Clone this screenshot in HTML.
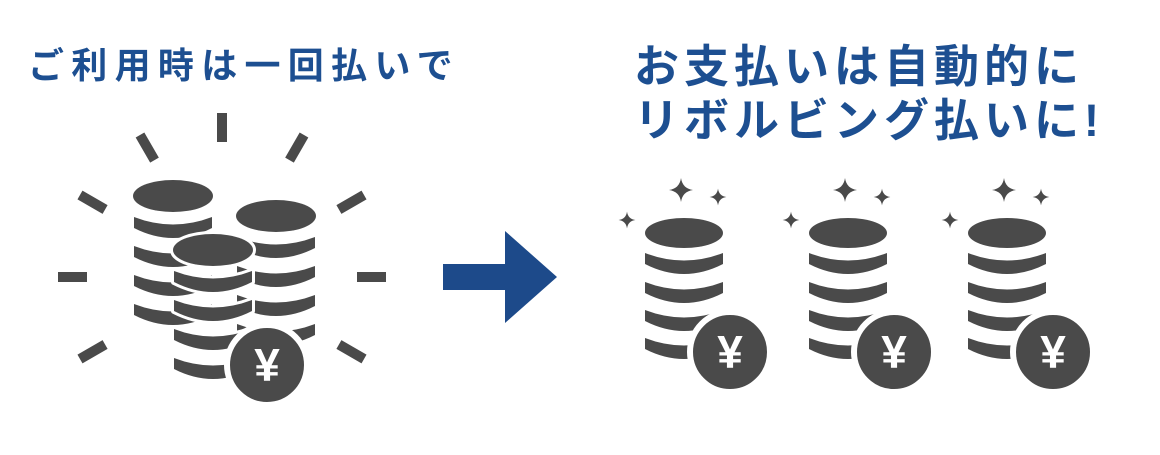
<!DOCTYPE html>
<html><head><meta charset="utf-8"><style>
body{margin:0;background:#fff;width:1160px;height:450px;overflow:hidden}
</style></head><body>
<svg width="1160" height="450" xmlns="http://www.w3.org/2000/svg">
<defs>
<g id="band"><path d="M-39,0 Q0,15 39,0 L39,11 Q0,31 -39,11 Z" stroke-linejoin="round"/></g>
<g id="spark"><path d="M0,-12 Q1.5,-1.5 12,0 Q1.5,1.5 0,12 Q-1.5,1.5 -12,0 Q-1.5,-1.5 0,-12Z"/></g>
</defs>
<g font-family="'Liberation Sans','Noto Sans CJK JP',sans-serif" font-weight="bold" fill="#1d4f91">
<text x="28" y="78" font-size="36" letter-spacing="7.3">ご利用時は一回払いで</text>
<text x="634" y="82" font-size="45" letter-spacing="5">お支払いは自動的に</text>
<text x="634" y="136" font-size="45" letter-spacing="5">リボルビング払いに!</text>
</g>
<g fill="#4a4a4a">
<g transform="translate(222,277)">
<rect x="-5" y="-164" width="10" height="29" transform="rotate(0)"/>
<rect x="-5" y="-164" width="10" height="29" transform="rotate(-30)"/>
<rect x="-5" y="-164" width="10" height="29" transform="rotate(30)"/>
<rect x="-5" y="-164" width="10" height="29" transform="rotate(-60)"/>
<rect x="-5" y="-164" width="10" height="29" transform="rotate(60)"/>
<rect x="-5" y="-164" width="10" height="29" transform="rotate(-90)"/>
<rect x="-5" y="-164" width="10" height="29" transform="rotate(90)"/>
<rect x="-5" y="-164" width="10" height="29" transform="rotate(-120)"/>
<rect x="-5" y="-164" width="10" height="29" transform="rotate(120)"/>
</g>
<g transform="translate(173,0)">
<ellipse cx="0" cy="196" rx="40" ry="16"/>
<use href="#band" y="217"/><use href="#band" y="246"/><use href="#band" y="275"/><use href="#band" y="304"/>
</g>
<g transform="translate(276,0)">
<ellipse cx="0" cy="216" rx="40" ry="16"/>
<use href="#band" y="237"/><use href="#band" y="266"/><use href="#band" y="295"/><use href="#band" y="324"/>
</g>
<g transform="translate(213,0)" stroke="#fff" stroke-width="6" paint-order="stroke">
<ellipse cx="0" cy="250" rx="40" ry="16"/>
<use href="#band" y="271"/><use href="#band" y="300"/><use href="#band" y="329"/><use href="#band" y="358"/>
</g>
<circle cx="267" cy="365" r="40" stroke="#fff" stroke-width="6"/>
<text x="267" y="381" font-family="'Liberation Sans',sans-serif" font-weight="bold" font-size="46" fill="#fff" text-anchor="middle">¥</text>
<g transform="translate(684,0)">
<use href="#spark" x="-3" y="190"/>
<ellipse cx="0" cy="233" rx="39" ry="15"/>
<use href="#band" y="253"/><use href="#band" y="282"/><use href="#band" y="310"/><use href="#band" y="338"/>
<circle cx="46" cy="352" r="40" stroke="#fff" stroke-width="6"/>
<text x="46" y="368" font-family="'Liberation Sans',sans-serif" font-weight="bold" font-size="46" fill="#fff" text-anchor="middle">¥</text>
</g>
<g transform="translate(848,0)">
<use href="#spark" x="-3" y="190"/>
<ellipse cx="0" cy="233" rx="39" ry="15"/>
<use href="#band" y="253"/><use href="#band" y="282"/><use href="#band" y="310"/><use href="#band" y="338"/>
<circle cx="46" cy="352" r="40" stroke="#fff" stroke-width="6"/>
<text x="46" y="368" font-family="'Liberation Sans',sans-serif" font-weight="bold" font-size="46" fill="#fff" text-anchor="middle">¥</text>
</g>
<g transform="translate(1007,0)">
<use href="#spark" x="-3" y="190"/>
<ellipse cx="0" cy="233" rx="39" ry="15"/>
<use href="#band" y="253"/><use href="#band" y="282"/><use href="#band" y="310"/><use href="#band" y="338"/>
<circle cx="46" cy="352" r="40" stroke="#fff" stroke-width="6"/>
<text x="46" y="368" font-family="'Liberation Sans',sans-serif" font-weight="bold" font-size="46" fill="#fff" text-anchor="middle">¥</text>
</g>
<path transform="translate(882,197) scale(0.7)" d="M0,-12 Q1.5,-1.5 12,0 Q1.5,1.5 0,12 Q-1.5,1.5 -12,0 Q-1.5,-1.5 0,-12Z"/>
<path transform="translate(791,220) scale(0.7)" d="M0,-12 Q1.5,-1.5 12,0 Q1.5,1.5 0,12 Q-1.5,1.5 -12,0 Q-1.5,-1.5 0,-12Z"/>
<path transform="translate(1041,197) scale(0.7)" d="M0,-12 Q1.5,-1.5 12,0 Q1.5,1.5 0,12 Q-1.5,1.5 -12,0 Q-1.5,-1.5 0,-12Z"/>
<path transform="translate(950,220) scale(0.7)" d="M0,-12 Q1.5,-1.5 12,0 Q1.5,1.5 0,12 Q-1.5,1.5 -12,0 Q-1.5,-1.5 0,-12Z"/>
<path transform="translate(718,197) scale(0.7)" d="M0,-12 Q1.5,-1.5 12,0 Q1.5,1.5 0,12 Q-1.5,1.5 -12,0 Q-1.5,-1.5 0,-12Z"/>
<path transform="translate(627,220) scale(0.7)" d="M0,-12 Q1.5,-1.5 12,0 Q1.5,1.5 0,12 Q-1.5,1.5 -12,0 Q-1.5,-1.5 0,-12Z"/>
</g>
<path d="M443,264 L505,264 L505,231 L557,277 L505,323 L505,290 L443,290 Z" fill="#1d4a8a"/>
</svg>
</body></html>
